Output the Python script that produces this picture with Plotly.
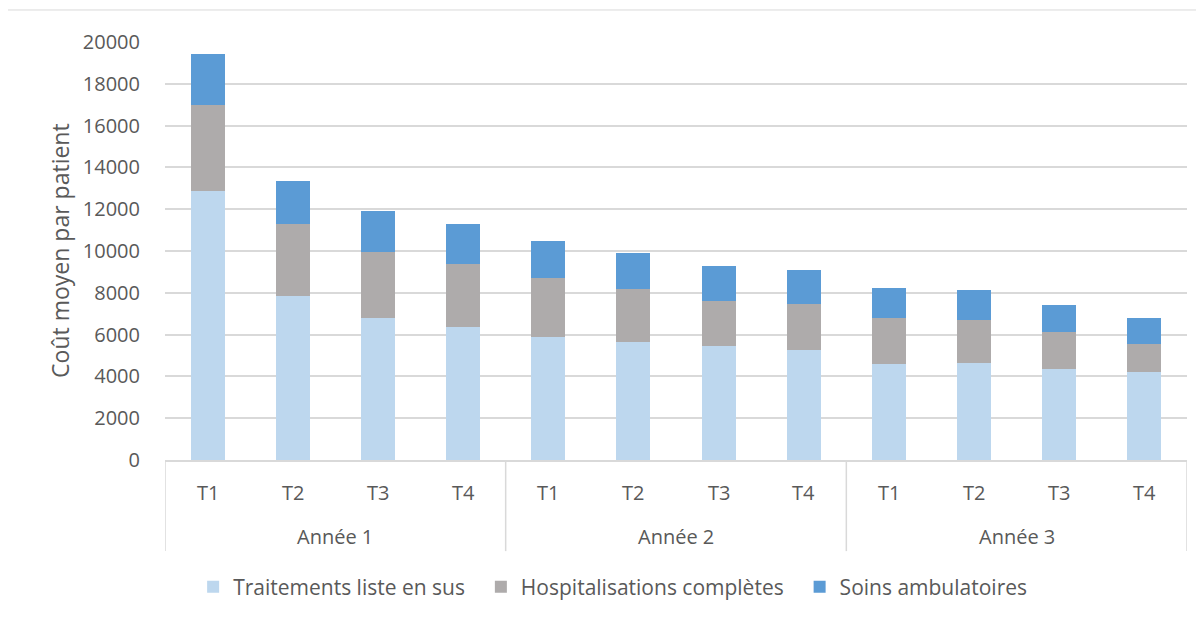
import plotly.graph_objects as go

annees = ["Année 1", "Année 2", "Année 3"]
trimestres = ["T1", "T2", "T3", "T4"]

traitements = [12850, 7850, 6790, 6380, 5890, 5650, 5440, 5260, 4590, 4620, 4370, 4200]
hospitalisations = [4150, 3440, 3160, 3000, 2820, 2550, 2170, 2190, 2200, 2080, 1740, 1350]
ambulatoires = [2430, 2060, 1960, 1910, 1770, 1690, 1690, 1620, 1450, 1420, 1290, 1260]

text_color = "#595959"
grid_color = "#D9D9D9"
font_name = "Open Sans"
pad = "\u00a0\u00a0"  # extra room between legend entries

# one category per (annee, trimestre) pair
categories = [a + " " + t for a in annees for t in trimestres]

fig = go.Figure()
fig.add_trace(go.Bar(x=categories, y=traitements, name="Traitements liste en sus" + pad,
                     marker=dict(color="#BDD7EE", line=dict(width=0))))
fig.add_trace(go.Bar(x=categories, y=hospitalisations, name="Hospitalisations complètes" + pad,
                     marker=dict(color="#AEABAB", line=dict(width=0))))
fig.add_trace(go.Bar(x=categories, y=ambulatoires, name="Soins ambulatoires",
                     marker=dict(color="#5B9BD5", line=dict(width=0))))

annotations = []
# quarter labels under each bar
for i, cat in enumerate(categories):
    annotations.append(dict(x=cat, y=-0.0766, xref="x", yref="paper", text=trimestres[i % 4],
                            showarrow=False, xanchor="center", yanchor="middle",
                            font=dict(size=20, color=text_color)))
# year labels centred under each group
for j, a in enumerate(annees):
    annotations.append(dict(x=j * 4 + 1.5, y=-0.184, xref="x", yref="paper", text=a,
                            showarrow=False, xanchor="center", yanchor="middle",
                            font=dict(size=20, color=text_color)))
# y axis title
annotations.append(dict(x=-0.103, y=0.502, xref="paper", yref="paper", text="Coût moyen par patient",
                        textangle=-90, showarrow=False, xanchor="center", yanchor="middle",
                        font=dict(size=23, color=text_color)))

shapes = []
# group dividers below the axis
for j in range(len(annees) + 1):
    shapes.append(dict(type="line", xref="x", yref="paper", x0=j * 4 - 0.5, x1=j * 4 - 0.5,
                       y0=-0.218, y1=0, line=dict(color=grid_color, width=1.5)))
# outer chart border
shapes.append(dict(type="rect", xref="paper", yref="paper", x0=-0.1546, x1=1.1, y0=-0.6, y1=1.0766,
                   line=dict(color=grid_color, width=1), layer="below"))

# the page body has an 8px margin, so the figure is a bit smaller and margins shifted
fig.update_layout(
    barmode="stack",
    bargap=0.6,
    width=1196,
    height=611,
    margin=dict(l=157, r=17, t=34, b=159),
    plot_bgcolor="white",
    paper_bgcolor="white",
    font=dict(family=font_name, size=20, color=text_color),
    showlegend=True,
    legend=dict(orientation="h", x=0.438, xanchor="center", y=-0.304, yanchor="middle",
                font=dict(size=21, color=text_color), traceorder="normal", itemwidth=30),
    xaxis=dict(type="category", showline=True, linecolor=grid_color, linewidth=1.5,
               showticklabels=False, ticks="", automargin=False, range=[-0.5, 11.5]),
    yaxis=dict(range=[0, 20000], dtick=2000, tickformat="d", showgrid=True, gridcolor=grid_color,
               gridwidth=1.5, zeroline=False, automargin=False, ticklabelstandoff=24,
               tickfont=dict(size=20, color=text_color)),
    annotations=annotations,
    shapes=shapes,
)

fig.write_html("out.html")
